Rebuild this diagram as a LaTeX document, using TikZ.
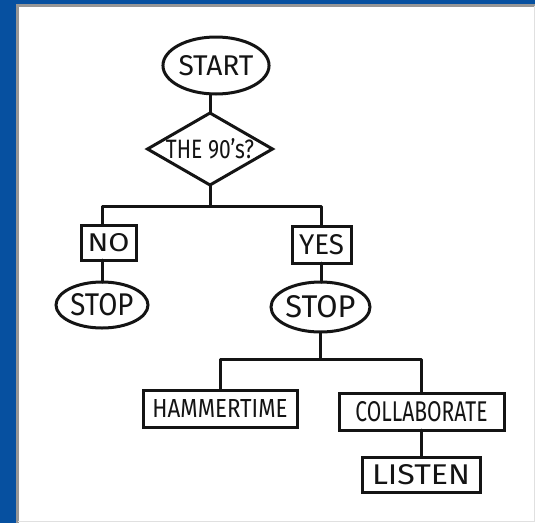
\documentclass[tikz,border=0pt]{standalone}
\usepackage{graphicx}
\usepackage{fontspec}
\setmainfont{Fira Sans}
\usetikzlibrary{shapes.geometric}
\definecolor{frameblue}{RGB}{6,80,160}
\definecolor{framegray}{RGB}{150,150,150}
\definecolor{ink}{RGB}{20,20,20}
\newcommand{\lbl}[3]{\resizebox{#1pt}{#2pt}{#3}}
\tikzset{
  every node/.style={inner sep=0pt, outer sep=0pt, text=ink},
  oval/.style={ellipse, draw=ink, line width=3pt, fill=white},
  decide/.style={diamond, draw=ink, line width=3pt, fill=white},
  box/.style={rectangle, draw=ink, line width=3pt, fill=white},
  link/.style={draw=ink, line width=3pt, line cap=round, line join=round}
}
\begin{document}
\begin{tikzpicture}[x=1pt,y=-1pt]
  % frame
  \useasboundingbox (0,0) rectangle (535,523);
  \fill[white] (0,0) rectangle (535,523);
  \fill[frameblue] (0,0) rectangle (17,523);
  \fill[frameblue] (0,0) rectangle (535,4);
  \draw[framegray, line width=3pt] (17.5,523) -- (17.5,5.5) -- (535,5.5);
  \draw[black!12, line width=1.2pt] (534.2,5.5) -- (534.2,521.5) -- (17.5,521.5);

  % junction points
  \coordinate (j1) at (210,206);
  \coordinate (j2) at (320,359);

  % nodes
  \node[oval, minimum width=101pt, minimum height=57pt] (start) at (216,65.5) {\lbl{75}{20}{START}};
  \node[decide, minimum width=125pt, minimum height=72pt] (q) at (210,149) {\makebox[0pt]{\lbl{88}{20}{THE 90’s?}}};
  \node[box, minimum width=55pt, minimum height=35pt] (no) at (108.5,242.5) {\lbl{42}{18}{NO}};
  \node[oval, minimum width=92pt, minimum height=46pt] (stopA) at (102,305) {\lbl{63}{22}{STOP}};
  \node[box, minimum width=59pt, minimum height=37pt] (yes) at (321.5,244.5) {\lbl{45}{20}{YES}};
  \node[oval, minimum width=95pt, minimum height=50pt] (stopB) at (320.5,307) {\lbl{70}{22}{STOP}};
  \node[box, minimum width=154pt, minimum height=37pt] (ham) at (220,408.5) {\lbl{135}{18}{HAMMERTIME}};
  \node[box, minimum width=165pt, minimum height=37pt] (collab) at (421.5,411.5) {\lbl{132}{20}{COLLABORATE}};
  \node[box, minimum width=118pt, minimum height=35pt] (listen) at (421,474.5) {\lbl{98}{20}{LISTEN}};

  % connectors
  \draw[link] (start.south -| q.north) -- (q.north);
  \draw[link] (q.south) -- (j1);
  \draw[link] (no.north -| stopA.north) -- (j1 -| stopA.north) -- (j1 -| yes.north) -- (yes.north);
  \draw[link] (no.south -| stopA.north) -- (stopA.north);
  \draw[link] (yes.south) -- (yes.south |- stopB.north);
  \draw[link] (stopB.south) -- (stopB.south |- j2);
  \draw[link] (ham.north) -- (ham.north |- j2) -- (collab.north |- j2) -- (collab.north);
  \draw[link] (collab.south -| listen.north) -- (listen.north);
\end{tikzpicture}
\end{document}
